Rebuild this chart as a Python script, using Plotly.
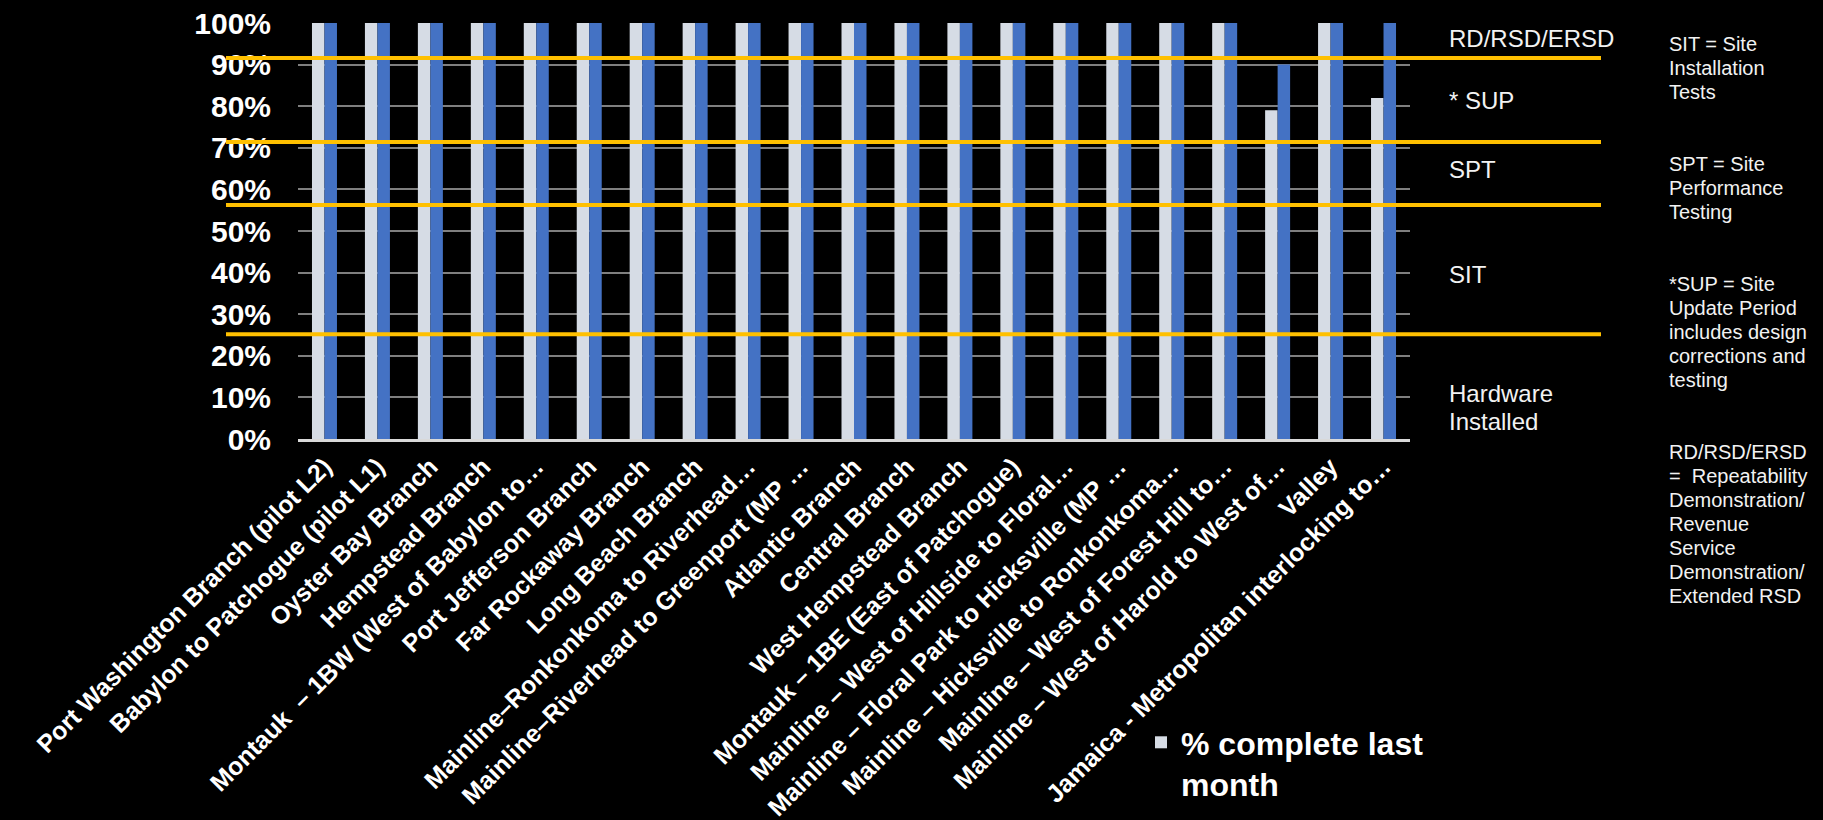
import plotly.graph_objects as go

# ---------------- data ----------------
categories = [
    "Port Washington Branch (pilot L2)",
    "Babylon to Patchogue (pilot L1)",
    "Oyster Bay Branch",
    "Hempstead Branch",
    "Montauk  – 1BW (West of Babylon to…",
    "Port Jefferson Branch",
    "Far Rockaway Branch",
    "Long Beach Branch",
    "Mainline–Ronkonkoma to Riverhead…",
    "Mainline–Riverhead to Greenport (MP …",
    "Atlantic Branch",
    "Central Branch",
    "West Hempstead Branch",
    "Montauk – 1BE (East of Patchogue)",
    "Mainline – West of Hillside to Floral…",
    "Mainline – Floral Park to Hicksville (MP …",
    "Mainline – Hicksville to Ronkonkoma…",
    "Mainline – West of Forest Hill to…",
    "Mainline – West of Harold to West of…",
    "Valley",
    "Jamaica - Metropolitan interlocking to…",
]
last_month = [1.00, 1.00, 1.00, 1.00, 1.00, 1.00, 1.00, 1.00, 1.00, 1.00, 1.00,
              1.00, 1.00, 1.00, 1.00, 1.00, 1.00, 1.00, 0.79, 1.00, 0.82]
this_month = [1.00, 1.00, 1.00, 1.00, 1.00, 1.00, 1.00, 1.00, 1.00, 1.00, 1.00,
              1.00, 1.00, 1.00, 1.00, 1.00, 1.00, 1.00, 0.90, 1.00, 1.00]
legend_name = "% complete last<br>month"
this_month_name = "% complete this month"

y_ticks = [0, 0.1, 0.2, 0.3, 0.4, 0.5, 0.6, 0.7, 0.8, 0.9, 1.0]

# stage boundaries (orange lines) and stage labels
stage_lines = [0.916, 0.714, 0.5625, 0.252]
stage_labels = ["RD/RSD/ERSD", "* SUP", "SPT", "SIT", "Hardware", "Installed"]
stage_label_ypx = [38.3, 100, 169, 274.3, 393.3, 421.7]

notes = [
    (["SIT = Site", "Installation", "Tests"], 44),
    (["SPT = Site", "Performance", "Testing"], 164),
    (["*SUP = Site", "Update Period", "includes design", "corrections and", "testing"], 284.3),
    (["RD/RSD/ERSD", "=  Repeatability", "Demonstration/", "Revenue", "Service",
      "Demonstration/", "Extended RSD"], 452.3),
]

# ---------------- layout geometry ----------------
W, H = 1823, 820
ML, MR, MT, MB = 298, 413, 23, 381
PW = W - ML - MR
PH = H - MT - MB


def px_x(x):
    return (x - ML) / PW


def px_y(y):
    return (H - MB - y) / PH


LIGHT = "#D6DCE5"
BLUE = "#4472C4"
GOLD = "#FFC000"
FONT = "Liberation Sans, Arial, sans-serif"

fig = go.Figure()
fig.add_trace(go.Bar(
    x=categories, y=last_month, name=legend_name,
    marker=dict(color=LIGHT, line=dict(width=0)),
))
fig.add_trace(go.Bar(
    x=categories, y=this_month, name=this_month_name, showlegend=False,
    marker=dict(color=BLUE, line=dict(width=0)),
))

shapes = []
for v in stage_lines:
    shapes.append(dict(type="line", xref="paper", yref="y",
                       x0=px_x(226), x1=px_x(1601), y0=v, y1=v,
                       line=dict(color=GOLD, width=4), layer="above"))

annotations = []
for lab, ypx in zip(stage_labels, stage_label_ypx):
    annotations.append(dict(text=lab, xref="paper", yref="paper",
                            x=px_x(1447), y=px_y(ypx), xanchor="left", yanchor="middle",
                            showarrow=False,
                            font=dict(family=FONT, size=24, color="#F2F2F2")))
for lines, y0 in notes:
    for i, line in enumerate(lines):
        annotations.append(dict(text=line, xref="paper", yref="paper",
                                x=px_x(1667), y=px_y(y0 + 24 * i),
                                xanchor="left", yanchor="middle", showarrow=False,
                                font=dict(family=FONT, size=20, color="#F2F2F2")))

fig.update_layout(
    width=W, height=H,
    template="none",
    paper_bgcolor="black", plot_bgcolor="black",
    margin=dict(l=ML, r=MR, t=MT, b=MB, autoexpand=False),
    barmode="group", bargap=0.528, bargroupgap=0,
    showlegend=True,
    legend=dict(x=px_x(1141), y=px_y(715), xanchor="left", yanchor="top",
                bgcolor="rgba(0,0,0,0)", valign="top",
                font=dict(family=FONT, size=32, color="white", weight="bold")),
    shapes=shapes,
    annotations=annotations,
    xaxis=dict(
        type="category", tickangle=-45, automargin=False,
        tickfont=dict(family=FONT, size=25, color="white", weight="bold"),
        showgrid=False, showline=True, linecolor="#D9D9D9", linewidth=3,
        ticks="", zeroline=False,
    ),
    yaxis=dict(
        range=[0, 1], tickvals=y_ticks, tickformat=".0%", automargin=False,
        tickfont=dict(family=FONT, size=30, color="white", weight="bold"),
        showgrid=True, gridcolor="#7F7F7F", gridwidth=2,
        zeroline=False, showline=False, ticks="", ticklabelstandoff=26,
    ),
)

fig.write_html("out.html")
